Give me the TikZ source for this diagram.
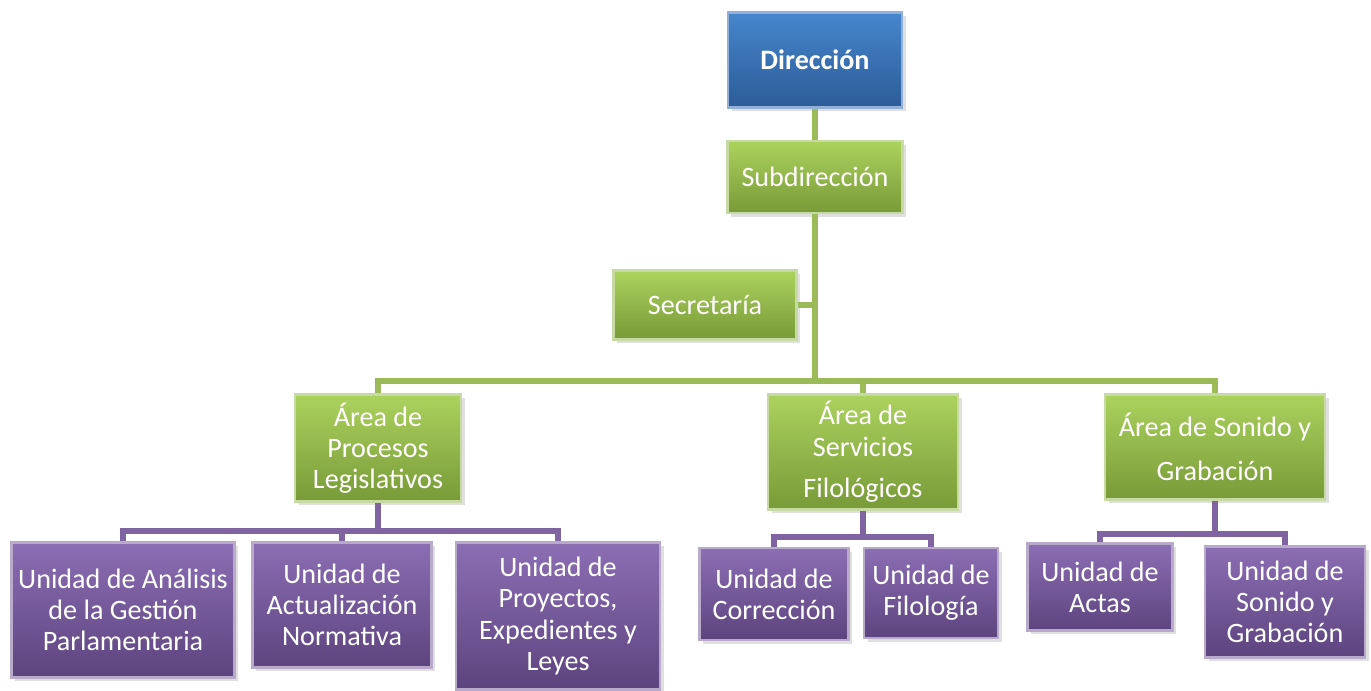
\documentclass[tikz,border=0pt]{standalone}
\usepackage{fontspec}
\setmainfont{Carlito}
\usepackage{tikz}
\usetikzlibrary{shadows}
\definecolor{dirblue}{RGB}{58, 114, 184}
\definecolor{areagreen}{RGB}{155, 187, 89}
\definecolor{unitpurple}{RGB}{128, 100, 162}
\definecolor{greentop}{RGB}{172, 210, 94}
\definecolor{greenbot}{RGB}{120, 154, 56}
\definecolor{purpletop}{RGB}{140, 110, 180}
\definecolor{purplebot}{RGB}{92, 68, 126}
\definecolor{bluetop}{RGB}{70, 134, 204}
\definecolor{bluebot}{RGB}{44, 92, 152}

\begin{document}
\begin{tikzpicture}[
    x=0.02cm, y=-0.02cm,
    box/.style={draw=white!45!#1, line width=1.2pt, drop shadow={opacity=0.25, shadow xshift=2pt, shadow yshift=-2pt},
        align=center, text=white, inner sep=2pt, font=\fontsize{16}{17.8}\selectfont},
    dirbox/.style={box=dirblue, top color=bluetop, bottom color=bluebot, font=\fontsize{16}{17.8}\selectfont\bfseries},
    areabox/.style={box=areagreen, top color=greentop, bottom color=greenbot},
    unitbox/.style={box=unitpurple, top color=purpletop, bottom color=purplebot},
    gline/.style={draw=areagreen, line width=3pt},
    pline/.style={draw=unitpurple, line width=3pt}
]
\useasboundingbox (0,0) rectangle (1371,690);

% nivel superior
\node[dirbox, minimum width=3.48cm, minimum height=1.9cm] (dir) at (815,60) {Dirección};
\node[areabox, minimum width=3.5cm, minimum height=1.44cm] (subdir) at (815,177) {Subdirección};
\node[areabox, minimum width=3.66cm, minimum height=1.38cm] (secre) at (705,305) {Secretaría};

% areas
\node[areabox, minimum width=3.32cm, minimum height=2.14cm] (procesos) at (378,448) {Área de\\Procesos\\Legislativos};
\node[areabox, minimum width=3.8cm, minimum height=2.3cm] (servicios) at (863,452) {Área de\\Servicios\\[6pt]Filológicos};
\node[areabox, minimum width=4.4cm, minimum height=2.1cm] (sonido) at (1215,447) {Área de Sonido y\\[7pt]Grabación};

% unidades
\node[unitbox, minimum width=4.46cm, minimum height=2.7cm] (analisis) at (123,610) {Unidad de Análisis\\de la Gestión\\Parlamentaria};
\node[unitbox, minimum width=3.58cm, minimum height=2.5cm] (actualiz) at (342,605) {Unidad de\\Actualización\\Normativa};
\node[unitbox, minimum width=4.08cm, minimum height=2.94cm] (proyectos) at (558,616) {Unidad de\\Proyectos,\\Expedientes y\\Leyes};
\node[unitbox, minimum width=2.98cm, minimum height=1.84cm] (correccion) at (774,594) {Unidad de\\Corrección};
\node[unitbox, minimum width=2.68cm, minimum height=1.8cm] (filologia) at (931,593) {Unidad de\\Filología};
\node[unitbox, minimum width=2.9cm, minimum height=1.74cm] (actas) at (1100,587) {Unidad de\\Actas};
\node[unitbox, minimum width=3.2cm, minimum height=2.22cm] (unisonido) at (1285,602) {Unidad de\\Sonido y\\Grabación};

% conectores
\coordinate (trunk) at (815,305);
\coordinate (abar) at (815,381);
\coordinate (pbar) at (378,531);
\coordinate (sbar) at (866,537);
\coordinate (gbar) at (1214,534);

\draw[gline] (dir.south) -- (subdir.north);
\draw[gline] (subdir.south) -- (abar);
\draw[gline] (secre.east) -- (trunk);
\draw[gline] (procesos.north) |- (abar) -| (sonido.north);
\draw[gline] (servicios.north) -- (servicios.north |- abar);

\draw[pline] (procesos.south) -- (pbar);
\draw[pline] (analisis.north) |- (pbar) -| (proyectos.north);
\draw[pline] (actualiz.north) -- (actualiz.north |- pbar);

\draw[pline] (servicios.south) -- (servicios.south |- sbar);
\draw[pline] (correccion.north) |- (sbar) -| (filologia.north);

\draw[pline] (sonido.south) -- (sonido.south |- gbar);
\draw[pline] (actas.north) |- (gbar) -| (unisonido.north);
\end{tikzpicture}
\end{document}
